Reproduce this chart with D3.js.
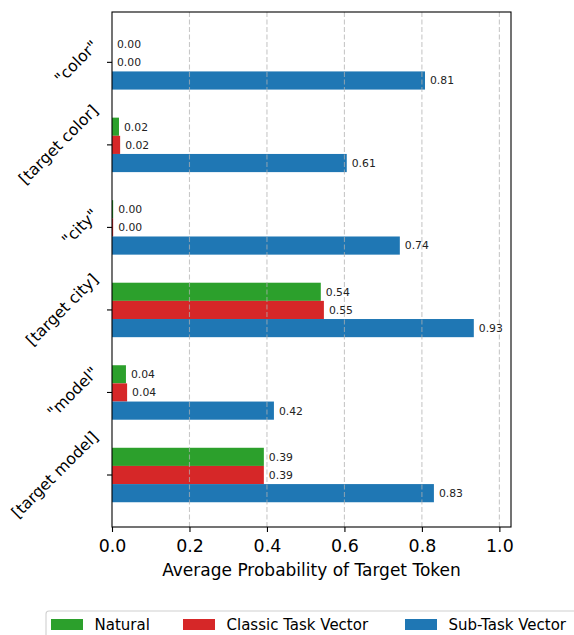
<!DOCTYPE html>
<html>
<head>
<meta charset="utf-8">
<script src="https://cdn.jsdelivr.net/npm/d3@7"></script>
<style>
  html, body { margin: 0; padding: 0; background: #fff; }
  svg { display: block; }
</style>
</head>
<body>
<svg id="chart" width="574" height="635"></svg>
<script>
// Prompt categories, top to bottom
const categories = ['"color"', '[target color]', '"city"', '[target city]', '"model"', '[target model]'];
// Average probability of the target token for each method
const natural = [0.000, 0.018, 0.003, 0.539, 0.036, 0.392];
const classic = [0.000, 0.021, 0.003, 0.547, 0.039, 0.392];
const subTask = [0.808, 0.606, 0.743, 0.934, 0.418, 0.831];
const seriesNames = ["Natural", "Classic Task Vector", "Sub-Task Vector"];
const xTicks = [0.0, 0.2, 0.4, 0.6, 0.8, 1.0];

const FONT = "'DejaVu Sans', sans-serif";
const colors = ["#2ca02c", "#d62728", "#1f77b4"];
const series = [natural, classic, subTask];
const offsets = [-1, 0, 1];
const barH = 0.22;

const svg = d3.select("#chart");
const plot = { left: 112, right: 511, top: 12, bottom: 527 };

const x = d3.scaleLinear().domain([0, 1.03]).range([plot.left, plot.right]);
const y = d3.scaleLinear().domain([-0.61, categories.length - 1 + 0.63]).range([plot.top, plot.bottom]);

// bars
series.forEach((vals, si) => {
  svg.append("g").selectAll("rect").data(vals).join("rect")
    .attr("x", x(0))
    .attr("y", (d, i) => y(i + offsets[si] * barH - barH / 2))
    .attr("width", d => x(d) - x(0))
    .attr("height", y(barH) - y(0))
    .attr("fill", colors[si]);
});

// dashed vertical grid, drawn over the bars
svg.append("g").selectAll("line").data(xTicks.filter(t => t > 0)).join("line")
  .attr("x1", d => x(d)).attr("x2", d => x(d))
  .attr("y1", plot.top).attr("y2", plot.bottom)
  .attr("stroke", "#b0b0b0").attr("stroke-opacity", 0.7)
  .attr("stroke-width", 1.1).attr("stroke-dasharray", "5,2.5");

// value labels
series.forEach((vals, si) => {
  svg.append("g").selectAll("text").data(vals).join("text")
    .attr("x", d => x(d) + 5)
    .attr("y", (d, i) => y(i + offsets[si] * barH))
    .attr("dy", "0.36em")
    .style("font-family", FONT).style("font-size", "10.8px")
    .attr("fill", "#222")
    .text(d => d.toFixed(2));
});

// frame
svg.append("rect")
  .attr("x", plot.left).attr("y", plot.top)
  .attr("width", plot.right - plot.left).attr("height", plot.bottom - plot.top)
  .attr("fill", "none").attr("stroke", "#000").attr("stroke-width", 1.1);

// x axis
const xAxis = d3.axisBottom(x).tickValues(xTicks).tickFormat(d3.format(".1f"))
  .tickSize(5).tickPadding(4);
const gx = svg.append("g").attr("transform", `translate(0,${plot.bottom})`).call(xAxis);
gx.select(".domain").remove();
gx.selectAll(".tick line").attr("stroke", "#000").attr("stroke-width", 1.1);
gx.selectAll(".tick text")
  .style("font-family", FONT).style("font-size", "17.4px")
  .attr("fill", "#000").attr("y", 25).attr("dy", null);

svg.append("text")
  .attr("x", (plot.left + plot.right) / 2).attr("y", 576)
  .attr("text-anchor", "middle")
  .style("font-family", FONT).style("font-size", "17px")
  .attr("fill", "#000")
  .text("Average Probability of Target Token");

// y axis: ticks plus labels rotated 45 degrees
const gy = svg.append("g");
gy.selectAll("line").data(categories).join("line")
  .attr("x1", plot.left - 5).attr("x2", plot.left)
  .attr("y1", (d, i) => y(i)).attr("y2", (d, i) => y(i))
  .attr("stroke", "#000").attr("stroke-width", 1.1);

const yFont = 15.8;
const labelRight = plot.left - 10;
const lineH = yFont * 1.164;
gy.selectAll("text").data(categories).join("text")
  .style("font-family", FONT).style("font-size", yFont + "px")
  .attr("fill", "#000")
  .attr("text-anchor", "middle").attr("dy", "0.32em")
  .text(d => d)
  .each(function (d, i) {
    const w = this.getComputedTextLength();
    const half = (w + lineH) / (2 * Math.SQRT2);
    const cx = labelRight - half;
    const cy = y(i);
    d3.select(this).attr("x", cx).attr("y", cy)
      .attr("transform", `rotate(-45,${cx},${cy})`);
  });

// legend
const leg = svg.append("g");
leg.append("rect")
  .attr("x", 46).attr("y", 611).attr("width", 560).attr("height", 60)
  .attr("rx", 3).attr("fill", "#fff").attr("stroke", "#d0d0d0").attr("stroke-width", 1.1);
const legX = [51, 183, 405];
seriesNames.forEach((name, i) => {
  leg.append("rect")
    .attr("x", legX[i]).attr("y", 619).attr("width", 32).attr("height", 11)
    .attr("fill", colors[i]);
  leg.append("text")
    .attr("x", legX[i] + 43.5).attr("y", 629.8)
    .style("font-family", FONT).style("font-size", "15px")
    .attr("fill", "#000")
    .text(name);
});
</script>
</body>
</html>
